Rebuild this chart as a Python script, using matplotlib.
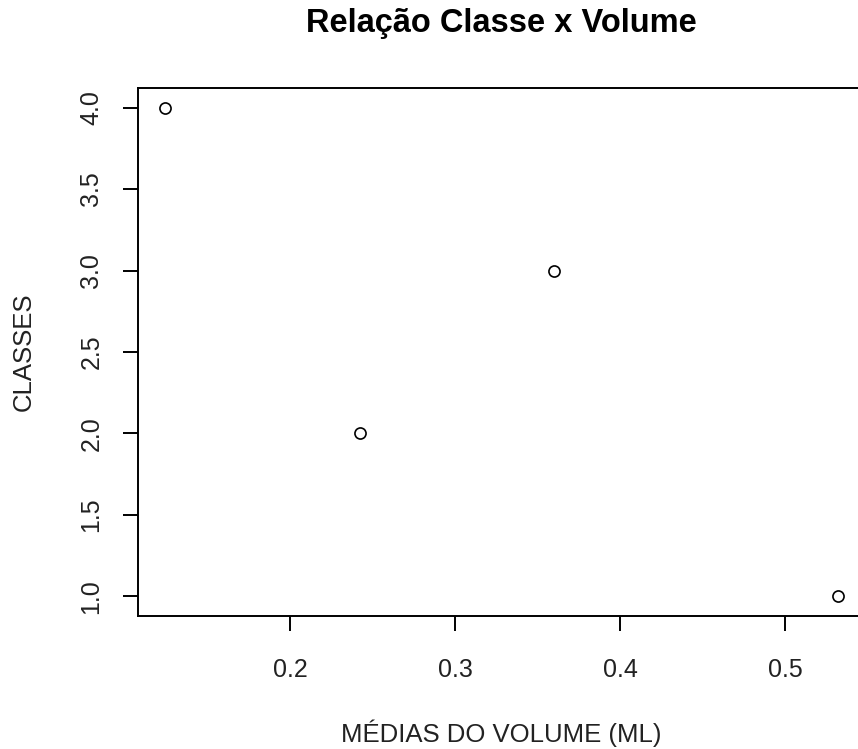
import matplotlib
matplotlib.use("Agg")
import matplotlib.pyplot as plt
import numpy as np

# medias do volume por classe
medias_volume = [0.532, 0.242, 0.360, 0.124]
classes = [1, 2, 3, 4]

xticks = [0.2, 0.3, 0.4, 0.5]
yticks = [1.0, 1.5, 2.0, 2.5, 3.0, 3.5, 4.0]

plt.rcParams['font.family'] = ['Liberation Sans', 'DejaVu Sans']

fig = plt.figure(figsize=(8.58, 7.49), dpi=100)
# a area do grafico passa da borda direita (imagem original cortada)
ax = fig.add_axes([138 / 858, 133 / 749, 727 / 858, 528 / 749])

ax.plot(medias_volume, classes, linestyle="none", marker="o", markersize=8,
        markerfacecolor="none", markeredgecolor="black", markeredgewidth=1.2)

# limites como no R (4% de folga)
def limites(v):
    v = np.asarray(v, dtype=float)
    r = v.max() - v.min()
    return v.min() - 0.04 * r, v.max() + 0.04 * r

ax.set_xlim(*limites(medias_volume))
ax.set_ylim(*limites(classes))

ax.set_xticks(xticks)
ax.set_xticklabels(["%.1f" % t for t in xticks])
ax.set_yticks(yticks)
ax.set_yticklabels(["%.1f" % t for t in yticks], rotation=90, va="center")

for s in ax.spines.values():
    s.set_linewidth(1.4)
    s.set_color("black")

ax.tick_params(axis="both", length=11, width=1.4, labelsize=18,
               colors="black", labelcolor="#222222")
ax.tick_params(axis="x", pad=19)
ax.tick_params(axis="y", pad=14)

ax.set_title("Relação Classe x Volume", fontsize=23.5, fontweight="bold", pad=40)
ax.set_xlabel("MÉDIAS DO VOLUME (ML)", fontsize=18.5, labelpad=27, color="#222222")
ax.set_ylabel("CLASSES", fontsize=18.5, labelpad=31, color="#222222")

fig.savefig("out.png", dpi=100)
